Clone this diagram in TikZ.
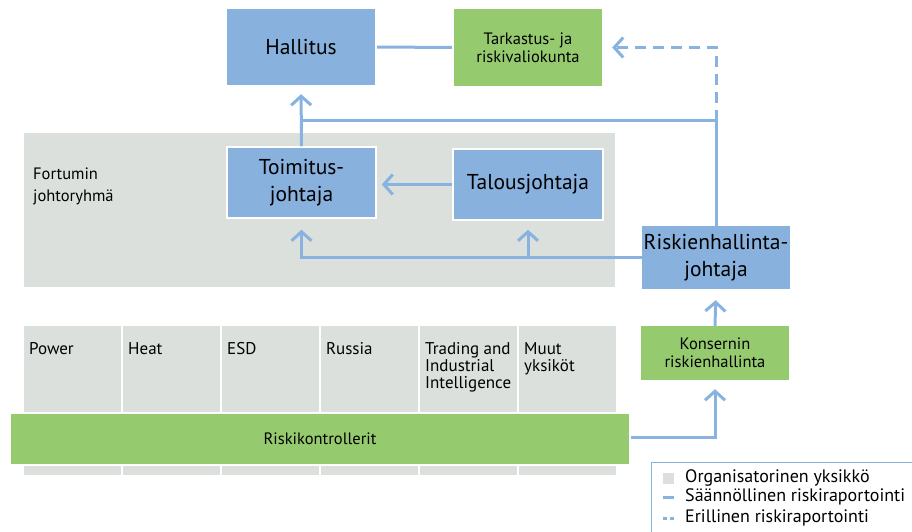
\documentclass[tikz,border=0pt]{standalone}
\usepackage{fontspec}
\setmainfont{PT Sans}
\usetikzlibrary{arrows.meta}
\definecolor{boxblue}{HTML}{88B1DE}
\definecolor{boxgreen}{HTML}{95CB6E}
\definecolor{unitgrey}{HTML}{DBE0DD}
\definecolor{linkblue}{HTML}{88B3E0}
\begin{document}
\begin{tikzpicture}[x=1pt,y=-1pt,
    bluebox/.style={fill=boxblue, align=center, inner sep=0pt, font=\fontsize{21.5}{27}\selectfont},
    greenbox/.style={fill=boxgreen, align=center, inner sep=0pt, font=\fontsize{16.5}{18}\selectfont},
    report/.style={draw=linkblue, line width=3pt},
    arrowtip/.style={-{Straight Barb[length=9pt,width=20pt,line width=3pt]}},
    unitlabel/.style={anchor=north west, align=left, inner sep=0pt, font=\fontsize{17}{17}\selectfont}]
    \useasboundingbox (0,0) rectangle (912,532);
    % management group background
    \fill[unitgrey] (24,133) rectangle (615,287);
    \node[anchor=west, align=left, inner sep=0pt, font=\fontsize{16.5}{22}\selectfont] (ryhma) at (33,186) {Fortumin\\johtoryhmä};
    % business units
    \foreach \i/\name in {0/Power, 1/Heat, 2/ESD, 3/Russia, 4/{Trading and\\Industrial\\Intelligence}, 5/{Muut\\yksiköt}} {
        \fill[unitgrey] (24+99*\i,326) rectangle (121+99*\i,475);
        \node[unitlabel] (unit\i) at (29+99*\i,342) {\name};
    }
    \node[fill=boxgreen, draw=white, line width=2pt, minimum width=620pt, minimum height=52pt, font=\fontsize{16.5}{18}\selectfont] (kontroll) at (320,439) {Riskikontrollerit};
    % boxes
    \node[bluebox, minimum width=148pt, minimum height=76pt] (hallitus) at (301,47) {Hallitus};
    \node[greenbox, minimum width=148pt, minimum height=77pt] (tarkastus) at (528,47.5) {Tarkastus- ja\\riskivaliokunta};
    \node[bluebox, draw=white, line width=1.5pt, minimum width=149pt, minimum height=71pt] (toimitus) at (301.5,182.5) {Toimitus-\\johtaja};
    \node[bluebox, draw=white, line width=1.5pt, minimum width=150pt, minimum height=71pt] (talous) at (528,184.5) {Talousjohtaja};
    \node[bluebox, minimum width=148pt, minimum height=63pt] (riskien) at (716,257.5) {Riskienhallinta-\\johtaja};
    \node[greenbox, minimum width=148pt, minimum height=54pt] (konserni) at (715,353) {Konsernin\\riskienhallinta};
    % reporting lines
    \coordinate (yhtyma) at (301,121);
    \coordinate (kulma) at (716,121);
    \draw[report, shorten <=2pt, shorten >=2pt] (hallitus.east) -- (tarkastus.west);
    \draw[report, arrowtip, shorten >=9pt] (toimitus.north) -- (hallitus.south);
    \draw[report] (riskien.north) -- (kulma) -- (yhtyma);
    \draw[report, arrowtip, dash pattern=on 11pt off 7pt, shorten >=10pt] (kulma) |- (tarkastus.east);
    \draw[report, arrowtip, shorten >=5pt] (talous.west) -- (talous.west -| toimitus.east);
    \draw[report, arrowtip, shorten >=11pt] (riskien.west) -| (toimitus.south);
    \draw[report, arrowtip, shorten >=9pt] (talous.south |- riskien.west) -- (talous.south);
    \draw[report, arrowtip, shorten >=11pt] (konserni.north) -- (riskien.south);
    \draw[report, arrowtip, shorten >=9pt] ([yshift=2pt]kontroll.east) -| (konserni.south);
    % legend
    \draw[linkblue, line width=1pt] (651,462) rectangle (915,536);
    \fill[unitgrey] (663,473) rectangle (674,484);
    \draw[linkblue, line width=3pt] (663,497) -- (674,497);
    \draw[linkblue, line width=3pt] (663,518) -- (667,518) (670,518) -- (674,518);
    \foreach \y/\txt in {478/Organisatorinen yksikkö, 497/Säännöllinen riskiraportointi, 518/Erillinen riskiraportointi} {
        \node[anchor=west, inner sep=0pt, font=\fontsize{18}{19}\selectfont] at (685,\y) {\txt};
    }
\end{tikzpicture}
\end{document}
